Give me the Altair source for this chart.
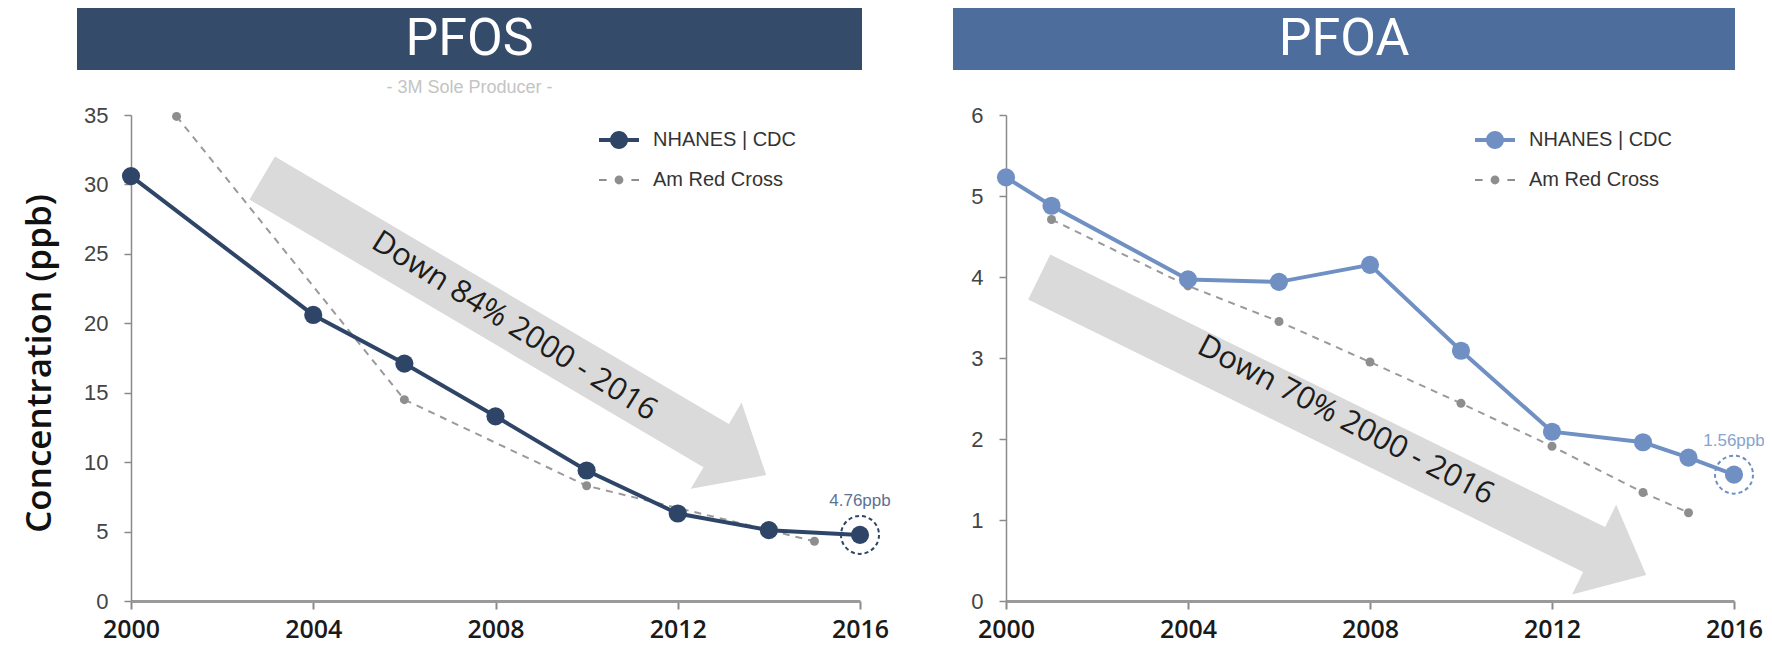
import math
import altair as alt
import pandas as pd

# ---------------- data ----------------
pfos_nh_years = [2000, 2004, 2006, 2008, 2010, 2012, 2014, 2016]
pfos_nh_vals = [30.6, 20.6, 17.1, 13.3, 9.4, 6.3, 5.1, 4.76]
pfos_rc_years = [2001, 2006, 2010, 2015]
pfos_rc_vals = [34.9, 14.5, 8.3, 4.3]

pfoa_nh_years = [2000, 2001, 2004, 2006, 2008, 2010, 2012, 2014, 2015, 2016]
pfoa_nh_vals = [5.23, 4.88, 3.97, 3.94, 4.15, 3.09, 2.09, 1.96, 1.77, 1.56]
pfoa_rc_years = [2001, 2004, 2006, 2008, 2010, 2012, 2014, 2015]
pfoa_rc_vals = [4.71, 3.89, 3.45, 2.95, 2.44, 1.91, 1.34, 1.09]

series_names = ["NHANES | CDC", "Am Red Cross"]
panel_titles = ["PFOS", "PFOA"]
subtitle = "- 3M Sole Producer -"
arrow_labels = ["Down 84% 2000 - 2016", "Down 70% 2000 - 2016"]
x_ticks = [2000, 2004, 2008, 2012, 2016]
pfos_y_ticks = [0, 5, 10, 15, 20, 25, 30, 35]
pfoa_y_ticks = [0, 1, 2, 3, 4, 5, 6]
y_title = "Concentration (ppb)"

# trend arrows in data units: (tail, tip)
pfos_arrow_years = [2002.88, 2013.94]
pfos_arrow_vals = [30.46, 9.07]
pfoa_arrow_years = [2000.73, 2014.07]
pfoa_arrow_vals = [4.0, 0.32]

# ---------------- layout / style ----------------
W, H = 1603, 486
LEFT_RANGE = [0, 729]
RIGHT_RANGE = [875, 1603]
FONT = "Liberation Sans, Arial, sans-serif"
BOLD_FONT = "Open Sans, Liberation Sans, sans-serif"
TITLE_FONT = "Roboto, Liberation Sans, sans-serif"
RC_COLOR = "#8e8e8e"

NH_PATH = ("M-1,-0.1L-0.4,-0.1L-0.4,0.1L-1,0.1Z "
           "M0.4,-0.1L1,-0.1L1,0.1L0.4,0.1Z "
           "M-0.45,0A0.45,0.45,0,1,1,0.45,0A0.45,0.45,0,1,1,-0.45,0Z")
RC_PATH = ("M-1,-0.055L-0.62,-0.055L-0.62,0.055L-1,0.055Z "
           "M0.62,-0.055L1,-0.055L1,0.055L0.62,0.055Z "
           "M-0.22,0A0.22,0.22,0,1,1,0.22,0A0.22,0.22,0,1,1,-0.22,0Z")


def panel(idx, nh_years, nh_vals, rc_years, rc_vals, y_ticks, xr,
          nh_color, note_color, arrow_years, arrow_vals, bar_color,
          bar_x0, bar_x1, legend_x, y_axis, text_dy):
    ymax = y_ticks[-1]
    xs = alt.Scale(domain=[2000, 2016], range=xr, nice=False, zero=False)
    ys = alt.Scale(domain=[0, ymax], nice=False, zero=True)
    xaxis = alt.Axis(orient="bottom", values=x_ticks, format="d", title=None,
                     labelFontSize=25, labelColor="#1a1a1a", labelFont=BOLD_FONT,
                     labelFontWeight=600,
                     labelPadding=8, tickSize=8, tickColor="#8a8a8a", tickWidth=2,
                     domainColor="#9a9a9a", domainWidth=3, grid=False,
                     labelFlush=False)
    X = alt.X("year:Q", scale=xs, axis=xaxis)
    Y = alt.Y("value:Q", scale=ys, axis=y_axis)

    nh = pd.DataFrame({"year": nh_years, "value": nh_vals})
    rc = pd.DataFrame({"year": rc_years, "value": rc_vals})

    # arrow geometry from the scales
    def px(yr, v):
        return (xr[0] + (yr - 2000) / 16 * (xr[1] - xr[0]), H - v / ymax * H)
    (x0, y0), (x1, y1) = px(arrow_years[0], arrow_vals[0]), px(arrow_years[1], arrow_vals[1])
    dx, dy = x1 - x0, y1 - y0
    L = math.hypot(dx, dy)
    ang = math.degrees(math.atan2(dy, dx))
    half = L / 2
    sw, hw, hb = 25 / half, 50 / half, 1 - 58 / half
    apath = (f"M-1,{-sw:.4f}L{hb:.4f},{-sw:.4f}L{hb:.4f},{-hw:.4f}L1,0"
             f"L{hb:.4f},{hw:.4f}L{hb:.4f},{sw:.4f}L-1,{sw:.4f}Z")
    cy = sum(arrow_years) / 2
    cv = sum(arrow_vals) / 2
    adf = pd.DataFrame({"year": [cy], "value": [cv], "t": [arrow_labels[idx]]})

    arrow = alt.Chart(adf).mark_point(shape=apath, size=L * L, angle=ang, filled=True,
                                      color="#dadada", opacity=1, strokeWidth=0).encode(X, Y)
    arrow_text = alt.Chart(adf).mark_text(angle=ang + 1.5, fontSize=31, font=BOLD_FONT,
                                          fontWeight=500, color="#1c1c1c",
                                          dy=text_dy).encode(X, Y, text="t:N")

    rc_line = alt.Chart(rc).mark_line(color="#9a9a9a", strokeWidth=2,
                                      strokeDash=[7, 6]).encode(X, Y)
    rc_pts = alt.Chart(rc).mark_circle(size=81, color=RC_COLOR, opacity=1).encode(X, Y)
    nh_line = alt.Chart(nh).mark_line(color=nh_color, strokeWidth=4).encode(X, Y)
    nh_pts = alt.Chart(nh).mark_circle(size=330, color=nh_color, opacity=1).encode(X, Y)

    last = pd.DataFrame({"year": [nh_years[-1]], "value": [nh_vals[-1]],
                         "t": [f"{nh_vals[-1]:.2f}ppb"]})
    ring = alt.Chart(last).mark_point(shape="circle", size=1444, filled=False, opacity=1,
                                      strokeDash=[4, 3], strokeWidth=2,
                                      color=nh_color).encode(X, Y)
    note = alt.Chart(last).mark_text(dy=-34, fontSize=17, font=FONT,
                                     color=note_color).encode(X, Y, text="t:N")

    leg = alt.Legend(orient="none", legendX=legend_x, legendY=5, title=None,
                     labelFontSize=20, labelFont=FONT, labelColor="#333333",
                     symbolSize=1600, symbolStrokeWidth=0, rowPadding=10,
                     labelOffset=14, padding=0)
    legend_layer = alt.Chart(pd.DataFrame({"series": series_names})).transform_filter(
        "false").mark_point(filled=True, opacity=1).encode(
        color=alt.Color("series:N", scale=alt.Scale(domain=series_names,
                                                    range=[nh_color, RC_COLOR]), legend=leg),
        shape=alt.Shape("series:N", scale=alt.Scale(domain=series_names,
                                                    range=[NH_PATH, RC_PATH]), legend=leg))

    tdf = pd.DataFrame({"t": [panel_titles[idx]]})
    bar = alt.Chart(tdf).mark_rect(color=bar_color).encode(
        x=alt.value(bar_x0), x2=alt.value(bar_x1), y=alt.value(-109), y2=alt.value(-45))
    bar_text = alt.Chart(tdf).mark_text(fontSize=52, font=TITLE_FONT, color="white").encode(
        x=alt.value((bar_x0 + bar_x1) / 2), y=alt.value(-76), text="t:N")

    layers = [arrow, arrow_text, rc_line, rc_pts, nh_line, nh_pts, ring, note,
              legend_layer, bar, bar_text]
    if idx == 0:
        sub = alt.Chart(pd.DataFrame({"t": [subtitle]})).mark_text(
            fontSize=18, font=FONT, color="#c4c4c4").encode(
            x=alt.value((bar_x0 + bar_x1) / 2), y=alt.value(-27), text="t:N")
        layers.append(sub)
    return alt.layer(*layers)


common_y = dict(grid=False, labelFontSize=22, labelColor="#444444", labelFont=FONT,
                labelPadding=16, tickSize=7, tickColor="#8a8a8a", tickWidth=1.5,
                domainColor="#8a8a8a", domainWidth=1.5)

left_axis = alt.Axis(orient="left", values=pfos_y_ticks, title=y_title,
                     titleFontSize=35, titleFont=BOLD_FONT, titleColor="#111111",
                     titleFontWeight=600, titleX=-92, titleY=248,
                     titleBaseline="middle", titleAngle=270, **common_y)
right_axis = alt.Axis(orient="left", offset=-875, values=pfoa_y_ticks, title=None, **common_y)

left = panel(0, pfos_nh_years, pfos_nh_vals, pfos_rc_years, pfos_rc_vals, pfos_y_ticks,
             LEFT_RANGE, "#2f4568", "#5d7293", pfos_arrow_years, pfos_arrow_vals,
             "#344b6a", -54, 731, 468, left_axis, 0)
right = panel(1, pfoa_nh_years, pfoa_nh_vals, pfoa_rc_years, pfoa_rc_vals, pfoa_y_ticks,
              RIGHT_RANGE, "#7090c4", "#86a4cf", pfoa_arrow_years, pfoa_arrow_vals,
              "#4d6d9c", 822, 1604, 1344, right_axis, -6)

chart = alt.layer(left, right).resolve_scale(
    x="independent", y="independent", color="independent", shape="independent"
).properties(
    width=W, height=H,
    autosize=alt.AutoSizeParams(type="none"),
    padding={"left": 123, "top": 107, "right": 30, "bottom": 52},
).configure_view(stroke=None)

chart.save("out.html", embed_options={"renderer": "svg", "actions": False})
